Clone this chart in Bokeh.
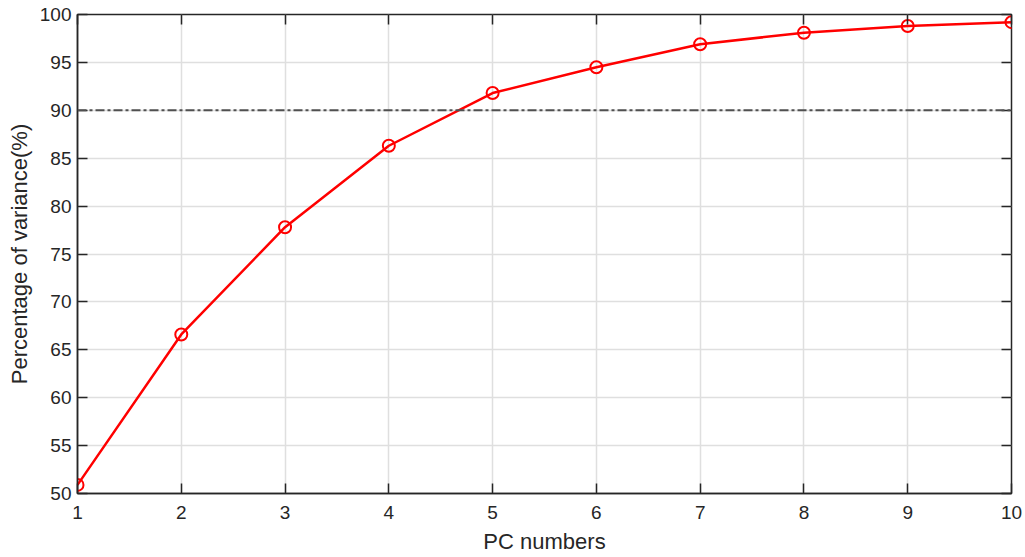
from bokeh.plotting import figure
from bokeh.models import Range1d, FixedTicker, LinearAxis, Span
from bokeh.embed import file_html
from bokeh.resources import INLINE

# Cumulative explained variance by principal component
pc_numbers = [1, 2, 3, 4, 5, 6, 7, 8, 9, 10]
cum_variance = [50.9, 66.6, 77.8, 86.3, 91.8, 94.5, 96.9, 98.1, 98.8, 99.2]
threshold = 90
x_ticks = [1, 2, 3, 4, 5, 6, 7, 8, 9, 10]
y_ticks = [50, 55, 60, 65, 70, 75, 80, 85, 90, 95, 100]

FONT = "Liberation Sans"
AXIS_COLOR = "#262626"

p = figure(width=1025, height=557, output_backend="svg", toolbar_location=None,
           x_range=Range1d(1, 10), y_range=Range1d(50, 100),
           min_border_left=77, min_border_right=14, min_border_top=14,
           min_border_bottom=64, background_fill_color="white",
           border_fill_color="white")

p.outline_line_color = AXIS_COLOR
p.outline_line_width = 1.5

for ax, ticks in ((p.xaxis[0], x_ticks), (p.yaxis[0], y_ticks)):
    ax.ticker = FixedTicker(ticks=ticks)
    ax.axis_line_color = AXIS_COLOR
    ax.axis_line_width = 1.5
    ax.major_tick_in = 10
    ax.major_tick_out = 0
    ax.major_tick_line_color = AXIS_COLOR
    ax.major_tick_line_width = 1.5
    ax.minor_tick_line_color = None
    ax.major_label_text_font = FONT
    ax.major_label_text_font_size = "19px"
    ax.major_label_text_color = AXIS_COLOR
    ax.axis_label_text_font = FONT
    ax.axis_label_text_font_size = "22px"
    ax.axis_label_text_font_style = "normal"
    ax.axis_label_text_color = AXIS_COLOR

p.xaxis.axis_label = "PC numbers"
p.yaxis.axis_label = "Percentage of variance(%)"
p.xaxis.major_label_standoff = 12
p.yaxis.major_label_standoff = 6
p.xaxis.axis_label_standoff = 7
p.yaxis.axis_label_standoff = 5

# Mirror ticks on the top and right edges of the box (no labels)
def mirror_axis(ticks):
    return LinearAxis(ticker=FixedTicker(ticks=ticks),
                      major_label_overrides={t: "" for t in ticks},
                      major_tick_in=10, major_tick_out=0, axis_line_color=None,
                      major_tick_line_color=AXIS_COLOR, major_tick_line_width=1.5,
                      minor_tick_line_color=None, major_label_standoff=0)

p.add_layout(mirror_axis(x_ticks), "above")
p.add_layout(mirror_axis(y_ticks), "right")

p.xgrid.ticker = FixedTicker(ticks=x_ticks)
p.ygrid.ticker = FixedTicker(ticks=y_ticks)
p.grid.grid_line_color = "#dfdfdf"
p.grid.grid_line_width = 1.5

p.add_layout(Span(location=threshold, dimension="width", line_color="#505050",
                  line_width=2, line_dash="9 3 3 3"))

p.line(pc_numbers, cum_variance, line_color="red", line_width=2.5)
p.scatter(pc_numbers, cum_variance, marker="circle", size=12, fill_color=None,
          line_color="red", line_width=2)

open("out.html", "w").write(file_html(p, INLINE))
